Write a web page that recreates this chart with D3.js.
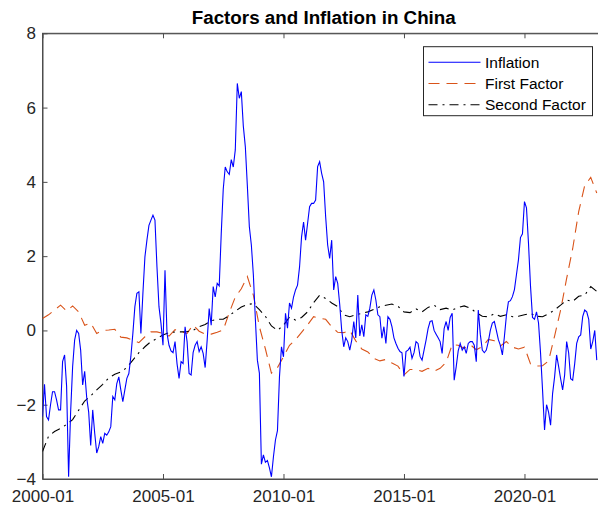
<!DOCTYPE html>
<meta charset="utf-8">
<style>
  body { margin: 0; background: #fff; }
  text { font-family: "Liberation Sans", Arial, sans-serif; fill: #262626; }
</style>
<body>
<script src="https://cdn.jsdelivr.net/npm/d3@7/dist/d3.min.js"></script>
<script>
// monthly series, month 0 = 2000-01
var inflation = [
  -2.32, -1.45, -2.32, -2.41, -2.0, -1.65, -1.65, -1.87, -2.14, -2.14,
  -0.84, -0.66, -1.5, -3.94, -2.2, -0.98, -0.26, 0.0, -0.08, -0.53,
  -1.47, -1.1, -1.8, -2.2, -3.1, -2.14, -2.77, -3.3, -3.13, -2.86,
  -3.04, -2.77, -2.82, -2.73, -2.59, -1.78, -1.87, -1.43, -1.25, -1.6,
  -1.92, -1.6, -1.29, -1.16, -0.7, -0.08, 0.64, 1.0, 1.04, -0.08,
  1.0, 1.98, 2.43, 2.83, 2.97, 3.1, 2.97, 1.71, 0.64, 0.19,
  -0.4, 1.62, -0.08, -0.4, -0.55, -0.6, -0.3, -0.9, -1.29, -0.84,
  -0.89, 0.1, -0.3, -1.16, -1.2, -0.6, -0.4, -0.3, -0.57, -0.44,
  -0.62, -1.0, -0.26, 0.59, 0.14, 1.18, 0.9, 1.27, 1.2, 2.6,
  3.8, 4.4, 4.27, 4.2, 4.6, 4.4, 4.86, 6.65, 6.25, 6.43,
  5.5, 4.95, 3.9, 2.79, 2.3, 1.5, 0.3, -0.8, -1.15, -3.6,
  -3.35, -3.55, -3.5, -3.7, -3.94, -3.4, -2.95, -2.7, -1.25, -0.44,
  -0.71, 0.46, 0.06, 0.74, 0.6, 0.9, 1.09, 1.22, 1.71, 2.52,
  2.92, 2.43, 2.88, 3.33, 3.42, 3.42, 3.51, 4.41, 4.54, 4.23,
  4.0, 3.06, 2.3, 1.94, 2.43, 1.09, 1.45, 1.27, 0.7, 0.0,
  -0.44, -0.2, -0.3, -0.53, -0.26, 0.24, -0.2, 0.95, -0.15, 0.15,
  -0.17, 0.42, 0.38, 0.6, 0.95, 1.09, 0.82, 0.42, 0.37, -0.21,
  0.1, -0.35, 0.37, 0.3, 0.1, -0.2, -0.35, -0.48, -0.57, -0.6,
  -1.24, -0.57, -0.53, -0.45, -0.75, -0.6, -0.3, -0.35, -0.7, -0.8,
  -0.53, -0.26, 0.05, 0.24, 0.26, 0.0, -0.1, -0.2, -0.3, -0.62,
  0.05, 0.24, 0.0, 0.35, 0.46, -1.34, -0.98, -0.55, -0.35, -0.53,
  -0.44, -0.62, -0.35, -0.3, -0.3, -0.4, -0.84, 0.55, -0.1, -0.53,
  -0.6, -0.53, -0.3, 0.0, 0.2, 0.24, 0.0, -0.25, -0.4, -0.66,
  -0.17, 0.4, 0.77, 0.8, 0.91, 1.1, 1.5, 1.9, 2.5, 2.6,
  3.47, 3.3, 2.35, 1.2, 0.35, 0.3, 0.5, 0.2, -0.6, -1.6,
  -2.68, -2.0, -2.2, -2.55, -1.7, -1.25, -0.66, -0.97, -1.3, -1.6,
  -1.2, -0.3, -0.6, -1.3, -1.34, -0.9, -0.35, -0.17, -0.12, 0.37,
  0.55, 0.5, 0.3, -0.5, -0.3, 0.0, -0.8
];

// factors read every third month (0, 3, 6, ...)
var firstFactor = [
  0.32, 0.42, 0.55, 0.68, 0.52, 0.66, 0.5, 0.14, 0.2, -0.08,
  0.0, 0.01, 0.03, -0.18, -0.2, -0.26, -0.33, -0.17, -0.04, -0.04,
  -0.08, -0.15, 0.02, -0.04, -0.08, 0.15, -0.02, -0.1, -0.1, -0.05,
  0.01, 0.48, 0.9, 1.12, 1.45, 0.95, 0.1, -0.5, -1.15, -1.0,
  -0.71, -0.4, -0.25, -0.05, 0.15, 0.37, 0.33, 0.3, 0.1, -0.05,
  -0.06, 0.0, -0.28, -0.5, -0.58, -0.75, -0.82, -0.78, -0.88, -0.96,
  -1.2, -1.05, -1.05, -1.1, -1.02, -1.1, -1.02, -0.86, -0.38, -0.4,
  -0.48, -0.38, -0.52, -0.44, -0.24, -0.28, -0.42, -0.3, -0.45, -0.5,
  -0.45, -0.9, -0.96, -0.95, -0.82, -0.15, 0.55, 1.4, 2.2, 3.2,
  3.9, 4.12, 3.7
];
var secondFactor = [
  -3.26, -2.85, -2.72, -2.64, -2.53, -2.4, -2.15, -1.9, -1.76, -1.6,
  -1.45, -1.28, -1.18, -1.12, -1.0, -0.8, -0.6, -0.44, -0.3, -0.22,
  -0.12, -0.06, -0.04, -0.04, -0.03, 0.0, 0.1, 0.16, 0.26, 0.3,
  0.3, 0.4, 0.52, 0.63, 0.7, 0.72, 0.56, 0.38, 0.12, 0.0,
  0.14, 0.36, 0.28, 0.35, 0.5, 0.75, 0.95, 0.86, 0.74, 0.64,
  0.42, 0.37, 0.42, 0.46, 0.5, 0.57, 0.64, 0.68, 0.71, 0.65,
  0.5, 0.48, 0.58, 0.5, 0.62, 0.68, 0.56, 0.6, 0.55, 0.62,
  0.66, 0.6, 0.48, 0.38, 0.37, 0.45, 0.38, 0.42, 0.37, 0.38,
  0.42, 0.46, 0.38, 0.37, 0.45, 0.55, 0.68, 0.82, 0.78, 0.92,
  0.95, 1.18, 1.05
];
var factorStep = 3;

var xTickMonths = [0, 60, 120, 180, 240];
var xTickLabels = ["2000-01", "2005-01", "2010-01", "2015-01", "2020-01"];
var yTicks = [-4, -2, 0, 2, 4, 6, 8];
var seriesNames = ["Inflation", "First Factor", "Second Factor"];

var width = 598, height = 511;
var plotLeft = 42.5, plotRight = 605, plotTop = 33.3, plotBottom = 479;

var svg = d3.select("body").append("svg")
  .attr("width", width)
  .attr("height", height);

var x = d3.scaleLinear().domain([0, 280.1]).range([plotLeft, plotRight]);
var y = d3.scaleLinear().domain([-4, 8]).range([plotBottom, plotTop]);

svg.append("defs").append("clipPath").attr("id", "clip")
  .append("rect").attr("x", plotLeft).attr("y", plotTop)
  .attr("width", plotRight - plotLeft).attr("height", plotBottom - plotTop);

// box
svg.append("rect")
  .attr("x", plotLeft).attr("y", plotTop)
  .attr("width", plotRight - plotLeft).attr("height", plotBottom - plotTop)
  .attr("fill", "none").attr("stroke", "#4d4d4d").attr("stroke-width", 1);

var xAxis = svg.append("g")
  .attr("transform", "translate(0," + plotBottom + ")")
  .call(d3.axisBottom(x).tickValues(xTickMonths)
    .tickFormat(function(d, i) { return xTickLabels[i]; })
    .tickSize(-5).tickSizeOuter(0).tickPadding(11));
xAxis.selectAll("text").style("font-size", "17px").attr("fill", "#262626");

svg.append("g")
  .attr("transform", "translate(0," + plotTop + ")")
  .call(d3.axisTop(x).tickValues(xTickMonths).tickFormat("")
    .tickSize(-5).tickSizeOuter(0));

var yAxis = svg.append("g")
  .attr("transform", "translate(" + plotLeft + ",0)")
  .call(d3.axisLeft(y).tickValues(yTicks)
    .tickSize(-5).tickSizeOuter(0).tickPadding(6.5));
yAxis.selectAll("text").style("font-size", "17px").attr("fill", "#262626");

svg.selectAll(".domain").attr("stroke", "#4d4d4d");
svg.selectAll(".tick line").attr("stroke", "#4d4d4d");

var plot = svg.append("g").attr("clip-path", "url(#clip)");

var monthly = d3.line()
  .x(function(d, i) { return x(i); })
  .y(function(d) { return y(d); });
var quarterly = d3.line()
  .x(function(d, i) { return x(i * factorStep); })
  .y(function(d) { return y(d); });

var styles = [
  { color: "#0000ff", dash: null },
  { color: "#d95319", dash: "11,7" },
  { color: "#000000", dash: "9,5,2,5" }
];

plot.append("path").datum(firstFactor)
  .attr("d", quarterly).attr("fill", "none")
  .attr("stroke", styles[1].color).attr("stroke-width", 1.1)
  .attr("stroke-dasharray", styles[1].dash);
plot.append("path").datum(secondFactor)
  .attr("d", quarterly).attr("fill", "none")
  .attr("stroke", styles[2].color).attr("stroke-width", 1.1)
  .attr("stroke-dasharray", styles[2].dash);
plot.append("path").datum(inflation)
  .attr("d", monthly).attr("fill", "none")
  .attr("stroke", styles[0].color).attr("stroke-width", 1.1);

// title
svg.append("text")
  .attr("x", (plotLeft + plotRight) / 2).attr("y", 24)
  .attr("text-anchor", "middle")
  .style("font-size", "18.8px").style("font-weight", "bold")
  .style("fill", "#000")
  .text("Factors and Inflation in China");

// legend
var legend = svg.append("g").attr("transform", "translate(423.5,46.7)");
legend.append("rect")
  .attr("width", 169).attr("height", 69)
  .attr("fill", "#fff").attr("stroke", "#262626").attr("stroke-width", 1);
seriesNames.forEach(function(name, i) {
  var cy = 15.5 + i * 21.3;
  legend.append("line")
    .attr("x1", 5).attr("x2", 57).attr("y1", cy).attr("y2", cy)
    .attr("stroke", styles[i].color).attr("stroke-width", 1.1)
    .attr("stroke-dasharray", styles[i].dash);
  legend.append("text")
    .attr("x", 61.5).attr("y", cy).attr("dy", "0.36em")
    .style("font-size", "15.5px").style("fill", "#000")
    .text(name);
});
</script>
</body>
